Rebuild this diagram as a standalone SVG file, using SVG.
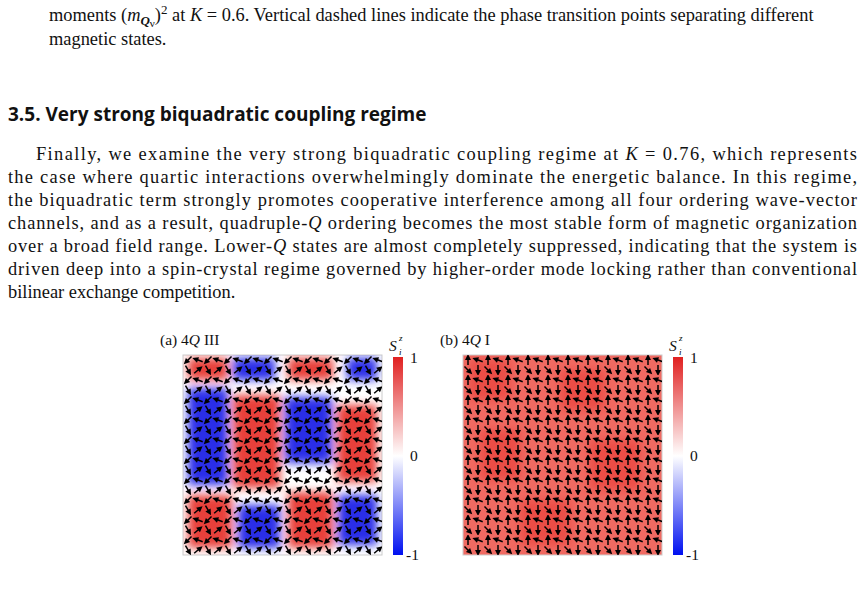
<svg xmlns="http://www.w3.org/2000/svg" width="864" height="599" viewBox="0 0 864 599">
<style>
.s{font-family:"Liberation Serif",serif;font-size:18.4px;fill:#111}
.c{font-family:"Liberation Serif",serif;font-size:15.5px;fill:#111}
.h{font-family:"Open Sans","Noto Sans",sans-serif;font-size:19px;font-weight:bold;fill:#111}
.r{fill:#e8403a}.b{fill:#2a2ee8}
</style>
<defs>
<filter id="bl" x="-5%" y="-5%" width="110%" height="110%"><feGaussianBlur stdDeviation="5"/></filter>
<linearGradient id="cb" x1="0" y1="0" x2="0" y2="1"><stop offset="0" stop-color="#e02020"/><stop offset="0.5" stop-color="#fff"/><stop offset="1" stop-color="#0010f0"/></linearGradient>
<g id="ar"><line x1="-5" y1="0" x2="2" y2="0" stroke="#000" stroke-width="1.5"/><path d="M6 0 L0 -3 L0 3 Z" fill="#000"/></g>
<pattern id="pa" width="20" height="20" patternUnits="userSpaceOnUse" x="183" y="355">
<use href="#ar" transform="translate(5,5) rotate(135)"/><use href="#ar" transform="translate(15,5) rotate(200)"/>
<use href="#ar" transform="translate(5,15) rotate(60)"/><use href="#ar" transform="translate(15,15) rotate(-40)"/>
</pattern>
<pattern id="pb" width="20" height="20" patternUnits="userSpaceOnUse" x="463" y="355">
<use href="#ar" transform="translate(5,5) rotate(-90)"/><use href="#ar" transform="translate(15,5) rotate(200)"/>
<use href="#ar" transform="translate(5,15) rotate(45)"/><use href="#ar" transform="translate(15,15) rotate(90)"/>
</pattern>
<clipPath id="ca"><rect x="183" y="355" width="199" height="200"/></clipPath>
<clipPath id="cbp"><rect x="463" y="355" width="199" height="200"/></clipPath>
</defs>
<text class="s" x="49" y="21">moments (<tspan font-style="italic">m</tspan><tspan font-style="italic" font-weight="bold" font-size="13" dy="4">Q</tspan><tspan font-size="11" dy="2">ν</tspan><tspan dy="-6">)</tspan><tspan font-size="13" dy="-7">2</tspan><tspan dy="7"> at </tspan><tspan font-style="italic">K</tspan> = 0.6. Vertical dashed lines indicate the phase transition points separating different</text>
<text class="s" x="49" y="45">magnetic states.</text>
<text class="h" x="8" y="121">3.5. Very strong biquadratic coupling regime</text>
<text class="s" x="36" y="160" textLength="821" lengthAdjust="spacing">Finally, we examine the very strong biquadratic coupling regime at <tspan font-style="italic">K</tspan> = 0.76, which represents</text>
<text class="s" x="8" y="183" textLength="849" lengthAdjust="spacing">the case where quartic interactions overwhelmingly dominate the energetic balance. In this regime,</text>
<text class="s" x="8" y="206" textLength="849" lengthAdjust="spacing">the biquadratic term strongly promotes cooperative interference among all four ordering wave-vector</text>
<text class="s" x="8" y="229" textLength="849" lengthAdjust="spacing">channels, and as a result, quadruple-<tspan font-style="italic">Q</tspan> ordering becomes the most stable form of magnetic organization</text>
<text class="s" x="8" y="252" textLength="849" lengthAdjust="spacing">over a broad field range. Lower-<tspan font-style="italic">Q</tspan> states are almost completely suppressed, indicating that the system is</text>
<text class="s" x="8" y="275" textLength="849" lengthAdjust="spacing">driven deep into a spin-crystal regime governed by higher-order mode locking rather than conventional</text>
<text class="s" x="8" y="298">bilinear exchange competition.</text>
<g id="panel-a">
<text class="c" x="160" y="345">(a) 4<tspan font-style="italic">Q</tspan> III</text>
<rect x="183" y="355" width="199" height="200" fill="#fff" stroke="#ccc"/>
<g clip-path="url(#ca)"><g filter="url(#bl)">
<rect class="r" x="188" y="358" width="40" height="22"/><rect class="b" x="233" y="358" width="42" height="22"/><rect class="r" x="288" y="358" width="45" height="22"/><rect class="b" x="347" y="358" width="30" height="22"/>
<rect class="b" x="188" y="388" width="40" height="97"/><rect class="r" x="233" y="395" width="47" height="93"/><rect class="b" x="285" y="397" width="47" height="66"/><rect class="r" x="337" y="405" width="40" height="77"/>
<rect class="r" x="188" y="495" width="44" height="53"/><rect class="b" x="238" y="505" width="42" height="43"/><rect class="r" x="288" y="492" width="45" height="56"/><rect class="b" x="338" y="495" width="39" height="50"/>
</g>
<rect x="183" y="355" width="199" height="200" fill="url(#pa)"/></g>
<text class="c" x="389" y="351" font-style="italic">S</text><text x="399" y="341" font-family="Liberation Serif,serif" font-size="9" font-style="italic">z</text><text x="399" y="355" font-family="Liberation Serif,serif" font-size="9" font-style="italic">i</text>
<rect x="393" y="357" width="10" height="198" fill="url(#cb)"/>
<text class="c" x="410" y="363">1</text><text class="c" x="410" y="461">0</text><text class="c" x="406" y="560">-1</text>
</g>
<g id="panel-b">
<text class="c" x="440" y="345">(b) 4<tspan font-style="italic">Q</tspan> I</text>
<rect x="463" y="355" width="199" height="200" fill="#f06a62" stroke="#ccc"/>
<g clip-path="url(#cbp)"><g filter="url(#bl)" opacity="0.6">
<rect x="470" y="360" width="40" height="40" fill="#e83a34"/><rect x="560" y="370" width="45" height="40" fill="#e83a34"/><rect x="480" y="430" width="40" height="50" fill="#e83a34"/><rect x="590" y="440" width="50" height="50" fill="#e83a34"/><rect x="520" y="500" width="50" height="45" fill="#e83a34"/>
</g>
<rect x="463" y="355" width="199" height="200" fill="url(#pb)"/></g>
<text class="c" x="669" y="351" font-style="italic">S</text><text x="679" y="341" font-family="Liberation Serif,serif" font-size="9" font-style="italic">z</text><text x="679" y="355" font-family="Liberation Serif,serif" font-size="9" font-style="italic">i</text>
<rect x="673" y="357" width="10" height="198" fill="url(#cb)"/>
<text class="c" x="690" y="363">1</text><text class="c" x="690" y="461">0</text><text class="c" x="686" y="560">-1</text>
</g>
<g id="connectors"/>
</svg>
